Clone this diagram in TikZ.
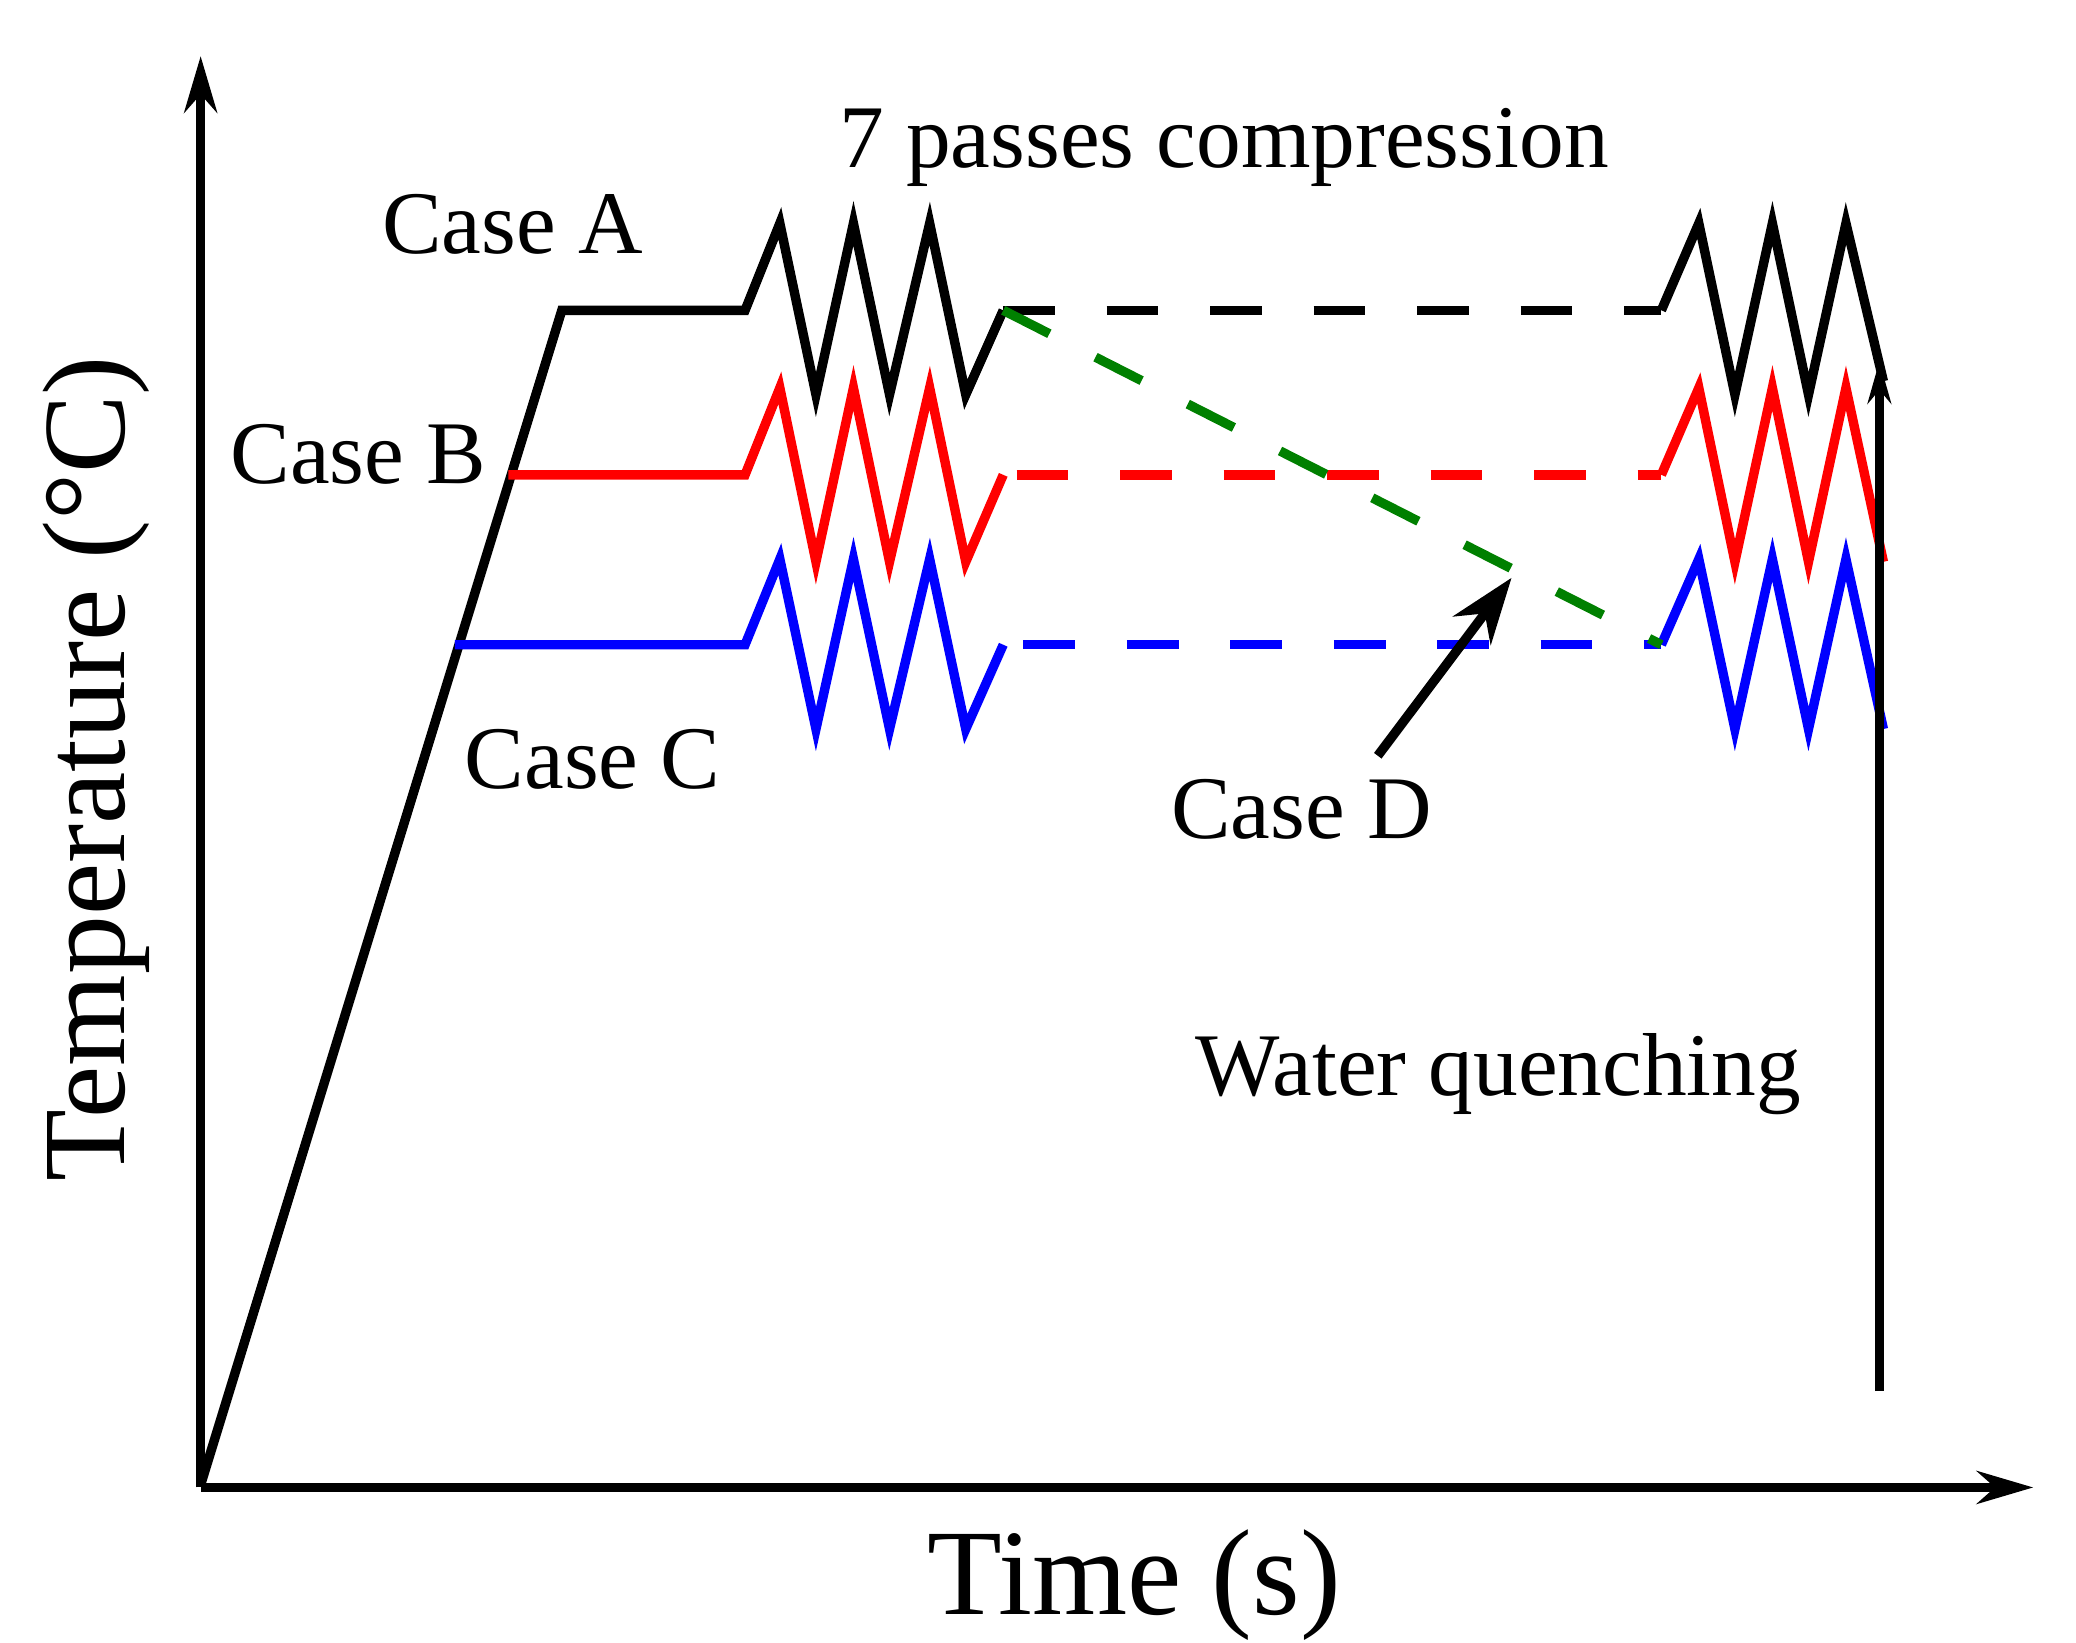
\documentclass[tikz,border=0pt]{standalone}
\usepackage{fontspec}
\setmainfont{Liberation Serif}
\usetikzlibrary{arrows.meta}
\begin{document}
\begin{tikzpicture}[x=0.01cm,y=-0.01cm,
    curve/.style={line width=2pt,line join=miter},
    later/.style={curve,dashed,dash pattern=on 11pt off 11pt},
    lbl/.style={font=\fontsize{19}{22}\selectfont,inner sep=0pt}]
    \useasboundingbox (0,0) rectangle (1552,1228);
    % axes
    \coordinate (o) at (150,1112);
    \coordinate (ytop) at (150,42);
    \coordinate (xend) at (1520,1112);
    \draw[line width=1.8pt,-{Stealth[length=12pt,width=7pt]}] (o) -- (ytop);
    \draw[line width=1.8pt,-{Stealth[length=12pt,width=7pt]}] (o) -- (xend);
    % Case A
    \draw[curve] (150,1110) -- (420,232) -- (557,232)
        -- (583,167) -- (610,295) -- (638,167) -- (665,295) -- (695,167) -- (722,295) -- (750,232);
    \draw[later] (750,232) -- (1242,232);
    \draw[curve] (1242,232) -- (1270,167) -- (1297,295) -- (1325,167) -- (1352,295) -- (1380,167) -- (1408,285);
    % Case B
    \draw[curve,red] (380,355) -- (557,355)
        -- (583,290) -- (610,420) -- (638,290) -- (665,420) -- (695,290) -- (722,420) -- (750,355);
    \draw[later,red] (760,355) -- (1242,355);
    \draw[curve,red] (1242,355) -- (1270,290) -- (1297,420) -- (1325,290) -- (1352,420) -- (1380,290) -- (1408,420);
    % Case C
    \draw[curve,blue] (340,482) -- (557,482)
        -- (583,418) -- (610,545) -- (638,418) -- (665,545) -- (695,418) -- (722,545) -- (750,482);
    \draw[later,blue] (765,482) -- (1242,482);
    \draw[curve,blue] (1242,482) -- (1270,418) -- (1297,545) -- (1325,418) -- (1352,545) -- (1380,418) -- (1408,545);
    % Case D
    \draw[later,green!50!black] (750,232) -- (1242,482);
    % quenching
    \coordinate (qtop) at (1405,270);
    \coordinate (qbot) at (1405,1040);
    \draw[line width=2pt,-{Stealth[length=9pt,width=5pt]}] (qbot) -- (qtop);
    % labels
    \node[lbl] (pass) at (915,110) {7 passes compression};
    \node[lbl] (caseA) at (383,168) {Case A};
    \node[lbl] (caseB) at (268,340) {Case B};
    \node[lbl] (caseC) at (443,568) {Case C};
    \node[lbl] (caseD) at (973,605) {Case D};
    \node[lbl] (water) at (1120,803) {Water quenching};
    \coordinate (dtip) at (1130,432);
    \draw[line width=2pt,-{Stealth[length=14pt,width=10pt]}] (1030,565) -- (dtip);
    \node[font=\fontsize{26}{30}\selectfont,inner sep=0pt] (time) at (848,1185) {Time (s)};
    \node[font=\fontsize{25}{30}\selectfont,inner sep=0pt,rotate=90] (temp) at (72,575) {Temperature (°C)};
\end{tikzpicture}
\end{document}
